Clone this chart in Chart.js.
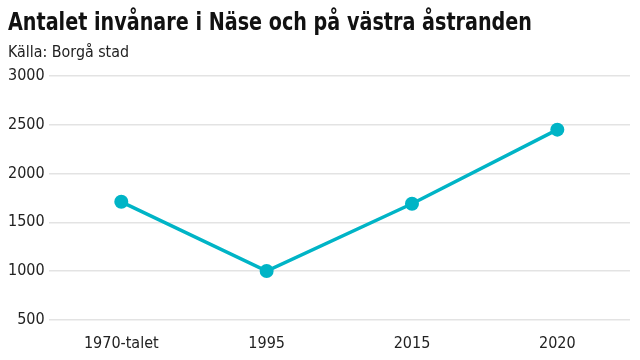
<!DOCTYPE html>
<html>
<head>
<meta charset="utf-8">
<script src="https://cdn.jsdelivr.net/npm/chart.js@4"></script>
<style>
  body { margin: 0; background: #fff; }
  #wrap { width: 640px; height: 360px; }
</style>
</head>
<body>
<div id="wrap"><canvas id="chart" width="640" height="360"></canvas></div>
<script>
// Data
const categories = ["1970-talet", "1995", "2015", "2020"];
const residents = [1710, 1000, 1690, 2450];
const yTicks = [500, 1000, 1500, 2000, 2500, 3000];

const titleText = "Antalet invånare i Näse och på västra åstranden";
const subtitleText = "Källa: Borgå stad";

const fontName = "'Liberation Sans Narrow', 'DejaVu Sans Condensed', sans-serif";

// Title and source drawn in a condensed style (squeezed horizontally)
const headerPlugin = {
  id: "header",
  afterDraw: (chart) => {
    const ctx = chart.ctx;
    const drawSqueezed = (text, font, color, x, y, width) => {
      ctx.save();
      ctx.font = font;
      ctx.fillStyle = color;
      ctx.textBaseline = "alphabetic";
      const w = ctx.measureText(text).width;
      ctx.translate(x, y);
      ctx.scale(width / w, 1);
      ctx.fillText(text, 0, 0);
      ctx.restore();
    };
    drawSqueezed(titleText, "bold 24px " + fontName, "#111", 8, 30, 524);
    drawSqueezed(subtitleText, "16px " + fontName, "#222", 8, 57, 121);
  },
};

const config = {
  type: "line",
  data: {
    labels: categories,
    datasets: [
      {
        label: "Invånare",
        data: residents,
        borderColor: "#00b4c6",
        backgroundColor: "#00b4c6",
        borderWidth: 3.5,
        pointRadius: 7,
        pointHoverRadius: 7,
        pointBorderWidth: 0,
        tension: 0,
      },
    ],
  },
  options: {
    responsive: false,
    animation: false,
    layout: { padding: { left: 4, right: 10, top: 76, bottom: 1 } },
    scales: {
      x: {
        offset: true,
        grid: { display: false },
        border: { display: false },
        ticks: {
          color: "#222",
          font: { family: fontName, size: 16 },
          padding: 6,
          maxRotation: 0,
        },
      },
      y: {
        min: 500,
        max: 3000,
        afterBuildTicks: (axis) => {
          axis.ticks = yTicks.map((v) => ({ value: v }));
        },
        grid: { color: "#e3e3e3", lineWidth: 1.5, drawTicks: false },
        border: { display: false },
        ticks: {
          color: "#222",
          font: { family: fontName, size: 16 },
          padding: 4,
          callback: (v) => String(v),
        },
      },
    },
    plugins: {
      legend: { display: false },
      tooltip: { enabled: false },
      title: { display: false },
    },
  },
  plugins: [headerPlugin],
};

const ctx = document.getElementById("chart").getContext("2d");
const myChart = new Chart(ctx, config);
</script>
</body>
</html>
